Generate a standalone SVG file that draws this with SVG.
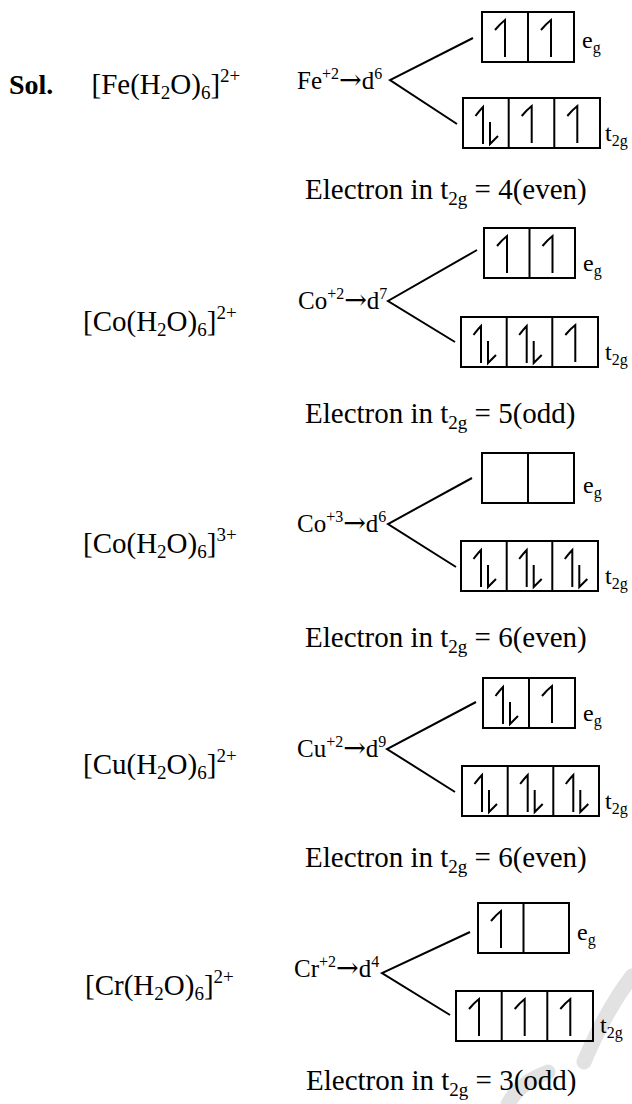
<svg xmlns="http://www.w3.org/2000/svg" width="632" height="1104" viewBox="0 0 632 1104">
<style>
.t{font-family:"Liberation Serif","Times New Roman",serif;fill:#000}
.main{font-size:29px}
.bold{font-weight:bold;font-size:28px}
.dn{font-size:25px}
.lbl{font-size:24px}
.sb{font-size:19px}
.sp{font-size:19px}
.sp2{font-size:16px}
.sb2{font-size:16px}
.ar{font-family:"DejaVu Serif","DejaVu Sans",serif;font-size:27px}
.box{fill:none;stroke:#000;stroke-width:2}
.ln{stroke:#000;stroke-width:2;fill:none}
.arr{stroke:#000;stroke-width:2;fill:none}
.wm{stroke:#e2e2e2;stroke-width:15;fill:none;stroke-linecap:round}
</style>
<defs>
<path id="s" class="arr" d="M13 18 Q18 12 23 8 V45"/>
<path id="p" class="arr" d="M12.5 18 Q17 12 20 9 V46 M27 24 V46 L35 38"/>
</defs>
<rect width="632" height="1104" fill="#fff"/>
<g id="watermark">
<path class="wm" d="M632 976 Q606 1010 584 1062"/>
<path class="wm" d="M548 1072 Q520 1082 508 1104"/>
</g>
<g id="connectors">
<path class="ln" d="M473 38 L390 80 L457 124"/>
<path class="ln" d="M477 250 L388 301 L455 342"/>
<path class="ln" d="M472 478 L388 524 L456 567"/>
<path class="ln" d="M476 702 L387 749 L455 792"/>
<path class="ln" d="M470 932 L382 973 L450 1015"/>
</g>
<g id="block1">
<text x="9" y="94" class="t bold">Sol.</text>
<text x="91.5" y="94" class="t main">[Fe(H<tspan class="sb" dy="5">2</tspan><tspan dy="-5">O)</tspan><tspan class="sb" dy="5">6</tspan><tspan dy="-5">]</tspan><tspan class="sp" dy="-12">2+</tspan></text>
<text x="297" y="89" class="t dn">Fe<tspan class="sp2" dy="-10">+2</tspan><tspan class="ar" dy="10">→</tspan>d<tspan class="sp2" dy="-10">6</tspan></text>
<g id="b1eg"><rect class="box" x="482" y="12" width="92" height="50"/><line class="ln" x1="528" y1="12" x2="528" y2="62"/><use href="#s" x="482" y="12"/><use href="#s" x="528" y="12"/></g>
<g id="b1t2g"><rect class="box" x="463" y="98" width="137" height="50"/><line class="ln" x1="508.7" y1="98" x2="508.7" y2="148"/><line class="ln" x1="554.3" y1="98" x2="554.3" y2="148"/><use href="#p" x="463" y="98"/><use href="#s" x="508.7" y="98"/><use href="#s" x="554.3" y="98"/></g>
<text x="582" y="48" class="t lbl">e<tspan class="sb2" dy="5">g</tspan></text>
<text x="605" y="141" class="t lbl">t<tspan class="sb2" dy="5">2g</tspan></text>
<text x="305" y="199" class="t main">Electron in t<tspan class="sb" dy="6">2g</tspan><tspan dy="-6"> = 4(even)</tspan></text>
</g>
<g id="block2">
<text x="83" y="331" class="t main">[Co(H<tspan class="sb" dy="5">2</tspan><tspan dy="-5">O)</tspan><tspan class="sb" dy="5">6</tspan><tspan dy="-5">]</tspan><tspan class="sp" dy="-12">2+</tspan></text>
<text x="298" y="309" class="t dn">Co<tspan class="sp2" dy="-10">+2</tspan><tspan class="ar" dy="10">→</tspan>d<tspan class="sp2" dy="-10">7</tspan></text>
<g id="b2eg"><rect class="box" x="484" y="228" width="91" height="50"/><line class="ln" x1="529.5" y1="228" x2="529.5" y2="278"/><use href="#s" x="484" y="228"/><use href="#s" x="529.5" y="228"/></g>
<g id="b2t2g"><rect class="box" x="461" y="317" width="137" height="50"/><line class="ln" x1="506.7" y1="317" x2="506.7" y2="367"/><line class="ln" x1="552.3" y1="317" x2="552.3" y2="367"/><use href="#p" x="461" y="317"/><use href="#p" x="506.7" y="317"/><use href="#s" x="552.3" y="317"/></g>
<text x="583" y="271" class="t lbl">e<tspan class="sb2" dy="5">g</tspan></text>
<text x="605" y="360" class="t lbl">t<tspan class="sb2" dy="5">2g</tspan></text>
<text x="305" y="423" class="t main">Electron in t<tspan class="sb" dy="6">2g</tspan><tspan dy="-6"> = 5(odd)</tspan></text>
</g>
<g id="block3">
<text x="83" y="553" class="t main">[Co(H<tspan class="sb" dy="5">2</tspan><tspan dy="-5">O)</tspan><tspan class="sb" dy="5">6</tspan><tspan dy="-5">]</tspan><tspan class="sp" dy="-12">3+</tspan></text>
<text x="297" y="532" class="t dn">Co<tspan class="sp2" dy="-10">+3</tspan><tspan class="ar" dy="10">→</tspan>d<tspan class="sp2" dy="-10">6</tspan></text>
<g id="b3eg"><rect class="box" x="482" y="453" width="92" height="50"/><line class="ln" x1="528" y1="453" x2="528" y2="503"/></g>
<g id="b3t2g"><rect class="box" x="461" y="541" width="137" height="50"/><line class="ln" x1="506.7" y1="541" x2="506.7" y2="591"/><line class="ln" x1="552.3" y1="541" x2="552.3" y2="591"/><use href="#p" x="461" y="541"/><use href="#p" x="506.7" y="541"/><use href="#p" x="552.3" y="541"/></g>
<text x="583" y="493" class="t lbl">e<tspan class="sb2" dy="5">g</tspan></text>
<text x="605" y="584" class="t lbl">t<tspan class="sb2" dy="5">2g</tspan></text>
<text x="305" y="647" class="t main">Electron in t<tspan class="sb" dy="6">2g</tspan><tspan dy="-6"> = 6(even)</tspan></text>
</g>
<g id="block4">
<text x="83" y="774" class="t main">[Cu(H<tspan class="sb" dy="5">2</tspan><tspan dy="-5">O)</tspan><tspan class="sb" dy="5">6</tspan><tspan dy="-5">]</tspan><tspan class="sp" dy="-12">2+</tspan></text>
<text x="297" y="757" class="t dn">Cu<tspan class="sp2" dy="-10">+2</tspan><tspan class="ar" dy="10">→</tspan>d<tspan class="sp2" dy="-10">9</tspan></text>
<g id="b4eg"><rect class="box" x="483" y="678" width="92" height="50"/><line class="ln" x1="529" y1="678" x2="529" y2="728"/><use href="#p" x="483" y="678"/><use href="#s" x="529" y="678"/></g>
<g id="b4t2g"><rect class="box" x="462" y="766" width="137" height="50"/><line class="ln" x1="507.7" y1="766" x2="507.7" y2="816"/><line class="ln" x1="553.3" y1="766" x2="553.3" y2="816"/><use href="#p" x="462" y="766"/><use href="#p" x="507.7" y="766"/><use href="#p" x="553.3" y="766"/></g>
<text x="583" y="721" class="t lbl">e<tspan class="sb2" dy="5">g</tspan></text>
<text x="605" y="809" class="t lbl">t<tspan class="sb2" dy="5">2g</tspan></text>
<text x="305" y="867" class="t main">Electron in t<tspan class="sb" dy="6">2g</tspan><tspan dy="-6"> = 6(even)</tspan></text>
</g>
<g id="block5">
<text x="85" y="995" class="t main">[Cr(H<tspan class="sb" dy="5">2</tspan><tspan dy="-5">O)</tspan><tspan class="sb" dy="5">6</tspan><tspan dy="-5">]</tspan><tspan class="sp" dy="-12">2+</tspan></text>
<text x="294" y="977" class="t dn">Cr<tspan class="sp2" dy="-10">+2</tspan><tspan class="ar" dy="10">→</tspan>d<tspan class="sp2" dy="-10">4</tspan></text>
<g id="b5eg"><rect class="box" x="478" y="903" width="91" height="50"/><line class="ln" x1="523.5" y1="903" x2="523.5" y2="953"/><use href="#s" x="478" y="903"/></g>
<g id="b5t2g"><rect class="box" x="456" y="991" width="137" height="50"/><line class="ln" x1="501.7" y1="991" x2="501.7" y2="1041"/><line class="ln" x1="547.3" y1="991" x2="547.3" y2="1041"/><use href="#s" x="456" y="991"/><use href="#s" x="501.7" y="991"/><use href="#s" x="547.3" y="991"/></g>
<text x="577" y="940" class="t lbl">e<tspan class="sb2" dy="5">g</tspan></text>
<text x="600" y="1033" class="t lbl">t<tspan class="sb2" dy="5">2g</tspan></text>
<text x="306" y="1090" class="t main">Electron in t<tspan class="sb" dy="6">2g</tspan><tspan dy="-6"> = 3(odd)</tspan></text>
</g>
</svg>
